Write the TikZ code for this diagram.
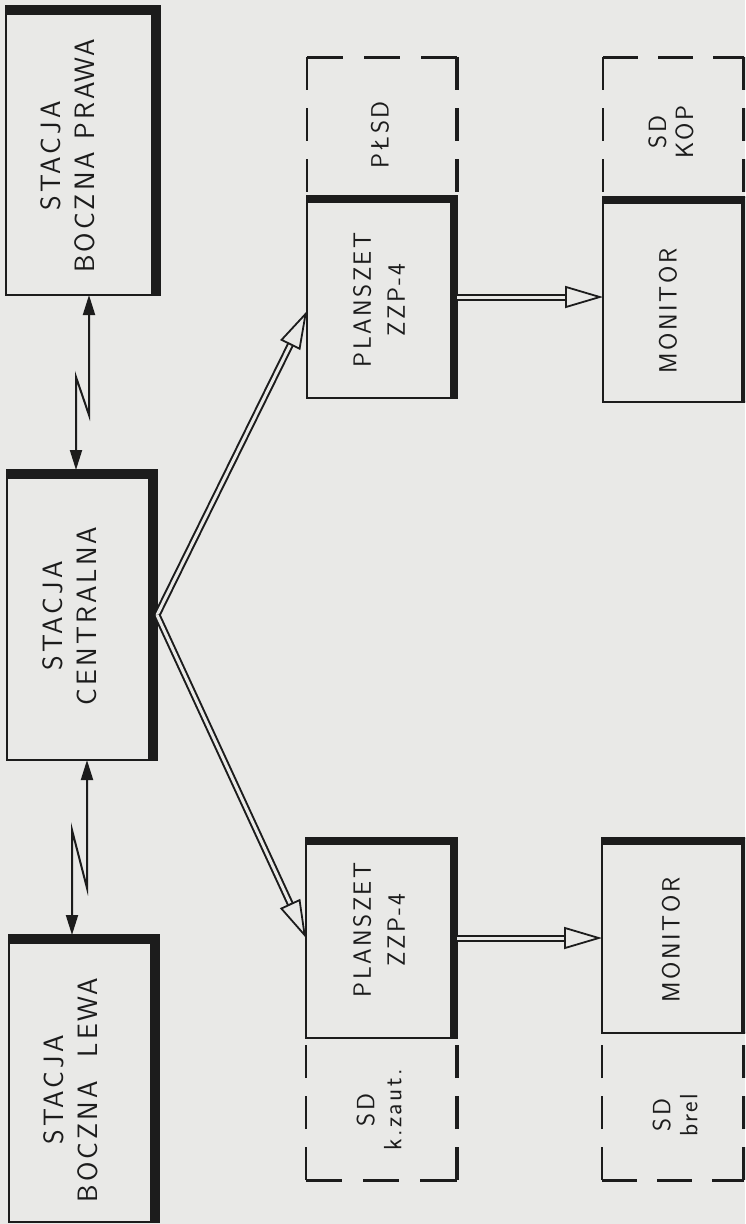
\documentclass[tikz,border=0pt]{standalone}
\usepackage{fontspec}
\newfontfamily\trkA{lmsans17-regular.otf}[LetterSpace=11]
\newfontfamily\trkB{lmsans17-regular.otf}[LetterSpace=10]
\usetikzlibrary{arrows.meta,calc}
\definecolor{paper}{RGB}{233,233,231}
\definecolor{ink}{RGB}{28,28,28}
\tikzset{
  box/.style={draw=ink, line width=2pt, inner sep=0pt, outer sep=0pt, anchor=north west},
  heavy/.style={path picture={\draw[ink, line width=#1, line join=miter]
      (path picture bounding box.north west) -- (path picture bounding box.north east)
      -- (path picture bounding box.south east);}},
  ghost/.style={inner sep=0pt, outer sep=0pt, anchor=north west},
  lbl/.style={rotate=90, align=center, text=ink, inner sep=0pt,
      font=\trkA\fontsize{28}{34}\selectfont},
  slbl/.style={rotate=90, align=center, text=ink, inner sep=0pt,
      font=\trkB\fontsize{25}{34}\selectfont},
  sdlbl/.style={rotate=90, align=center, text=ink, inner sep=0pt,
      font=\trkB\fontsize{25}{27}\selectfont},
  dv/.style={draw=ink, line width=2pt, dash pattern=on 33pt off 18pt},
  dvr/.style={draw=ink, line width=4.5pt, dash pattern=on 33pt off 18pt},
  dhw/.style={draw=ink, line width=3pt, dash pattern=on 36pt off 21pt on 36pt off 21pt on 40pt off 10pt},
  dhn/.style={draw=ink, line width=3pt, dash pattern=on 35pt off 20pt on 35pt off 20pt on 40pt off 10pt},
  bid/.style={draw=ink, line width=2pt, line join=miter,
      {Triangle[length=20pt,width=12pt]}-{Triangle[length=20pt,width=12pt]}},
  dbl/.style={draw=ink, line width=2pt, double=paper, double distance=3pt, shorten >=32pt},
  head/.style={draw=ink, line width=1.8pt, -{Triangle[length=38pt,width=22pt,fill=paper]}},
}
\begin{document}
\begin{tikzpicture}[x=1pt, y=-1pt]
\useasboundingbox (0,0) rectangle (745,1224);
\fill[paper] (0,0) rectangle (745,1224);
\clip (0,0) rectangle (745,1224);

% stations
\node[box, heavy=18pt, minimum width=154pt, minimum height=289pt] (prawa) at (6,6) {};
\node[box, heavy=18pt, minimum width=150pt, minimum height=290pt] (cen) at (7,470) {};
\node[box, heavy=18pt, minimum width=150pt, minimum height=287pt] (lewa) at (9,935) {};
\node[lbl] (tprawa) at (68,156) {STACJA\\BOCZNA PRAWA};
\node[lbl] (tcen) at (70,616) {STACJA\\CENTRALNA};
\node[lbl] (tlewa) at (71,1090) {STACJA\\BOCZNA\ \ LEWA};

% planszets and monitors
\node[box, heavy=14pt, minimum width=150pt, minimum height=202pt] (pt) at (307,196) {};
\node[box, heavy=14pt, minimum width=145pt, minimum height=205pt] (mt) at (603,197) {};
\node[box, heavy=14pt, minimum width=151pt, minimum height=200pt] (pb) at (306,838) {};
\node[box, heavy=14pt, minimum width=146pt, minimum height=195pt] (mb) at (602,838) {};
\node[slbl] (tpt) at (379,300) {PLANSZET\\ZZP-4};
\node[slbl] (tmt) at (668,311) {MONITOR};
\node[slbl] (tpb) at (379,930) {PLANSZET\\ZZP-4};
\node[slbl] (tmb) at (671,940) {MONITOR};

% dashed boxes
\node[ghost, minimum width=150pt, minimum height=139pt] (ps) at (307,57) {};
\node[ghost, minimum width=141pt, minimum height=140pt] (mk) at (603,57) {};
\node[ghost, minimum width=151pt, minimum height=142pt] (sk) at (306,1038) {};
\node[ghost, minimum width=142pt, minimum height=147pt] (sb) at (602,1033) {};
\draw[dv] (ps.north west) -- (ps.south west);
\draw[dvr] (ps.north east) -- (ps.south east);
\draw[dhw] (ps.north west) -- (ps.north east);
\draw[dv] (mk.north west) -- (mk.south west);
\draw[dvr] (mk.north east) -- (mk.south east);
\draw[dhn] (mk.north west) -- (mk.north east);
\draw[dv] (sk.south west) -- (sk.north west);
\draw[dvr] (sk.south east) -- (sk.north east);
\draw[dhw] (sk.south west) -- (sk.south east);
\draw[dv] (sb.south west) -- (sb.north west);
\draw[dvr] (sb.south east) -- (sb.north east);
\draw[dhn] (sb.south west) -- (sb.south east);
\node[sdlbl] (tps) at (380,135) {PŁSD};
\node[sdlbl] (tmk) at (671,132) {SD\\KOP};
\node[sdlbl] (tsk) at (379,1110) {SD\\k.zaut.};
\node[sdlbl] (tsb) at (675,1115) {SD\\brel};

% radio links
\coordinate (z1a) at (89,415);
\coordinate (z1b) at (76,377);
\draw[bid] (z1a |- prawa.south) -- (z1a) -- (z1b) -- (z1b |- cen.north);
\coordinate (z2a) at (87,888);
\coordinate (z2b) at (72,830);
\draw[bid] (z2a |- cen.south) -- (z2a) -- (z2b) -- (z2b |- lewa.north);

% double-line arrows
\coordinate (ptin) at ([yshift=-14pt]pt.west);
\draw[dbl] (cen.east) -- (ptin);
\draw[head] ($(ptin)!38pt!(cen.east)$) -- (ptin);
\draw[dbl] (cen.east) -- (pb.west);
\draw[head] ($(pb.west)!38pt!(cen.east)$) -- (pb.west);
\draw[dbl] (pt.east) -- (pt.east -| mt.west);
\draw[head] ($(pt.east -| mt.west)!38pt!(pt.east)$) -- (pt.east -| mt.west);
\draw[dbl] (pb.east) -- (pb.east -| mb.west);
\draw[head] ($(pb.east -| mb.west)!38pt!(pb.east)$) -- (pb.east -| mb.west);
\end{tikzpicture}
\end{document}
